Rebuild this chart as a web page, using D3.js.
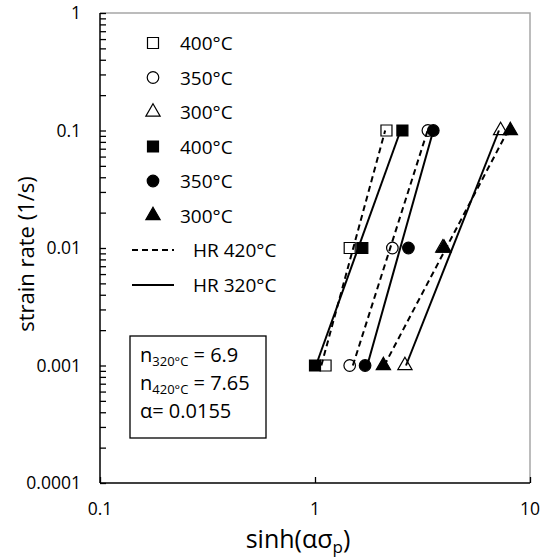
<!DOCTYPE html>
<html>
<head>
<meta charset="utf-8">
<script src="https://cdn.jsdelivr.net/npm/d3@7"></script>
<style>
  body { margin: 0; background: #fff; }
  svg text { font-family: "Open Sans", sans-serif; fill: #000; }
</style>
</head>
<body>
<div id="chart"></div>
<script>
// strain rates (1/s) measured
const rates = [0.001, 0.01, 0.1];

// sinh(alpha*sigma_p) for each temperature, open = one condition, filled = other
const open400 = [1.12, 1.45, 2.15];
const open350 = [1.45, 2.29, 3.35];
const open300 = [2.62, 3.93, 7.3];
const fill400 = [1.0, 1.66, 2.55];
const fill350 = [1.71, 2.72, 3.55];
const fill300 = [2.08, 3.98, 8.1];

// fitted lines: x at rate 0.001 and at 0.1
const fitRates = [0.001, 0.1];
const dashFits = [[1.07, 2.12], [1.5, 3.34], [2.1, 7.9]];
const solidFits = [[1.01, 2.5], [1.75, 3.55], [2.65, 7.17]];

const xTicks = [0.1, 1, 10];
const yTicks = [0.0001, 0.001, 0.01, 0.1, 1];

const series = [
  { name: "400°C", values: open400, shape: "square", filled: false },
  { name: "350°C", values: open350, shape: "circle", filled: false },
  { name: "300°C", values: open300, shape: "triangle", filled: false },
  { name: "400°C", values: fill400, shape: "square", filled: true },
  { name: "350°C", values: fill350, shape: "circle", filled: true },
  { name: "300°C", values: fill300, shape: "triangle", filled: true }
];

const width = 543, height = 560;
const x = d3.scaleLog().domain([0.1, 10]).range([100, 530]);
const y = d3.scaleLog().domain([0.0001, 1]).range([483, 13]);

const svg = d3.select("#chart").append("svg")
  .attr("width", width)
  .attr("height", height);

// gray plot-area border (top + right)
svg.append("path")
  .attr("d", `M${x(0.1)},${y(1)}H${x(10)}V${y(0.0001)}`)
  .attr("fill", "none")
  .attr("stroke", "#a6a6a6")
  .attr("stroke-width", 1.5);

// y axis with minor ticks pointing inside
const yMinor = [];
for (let e = -4; e < 0; e++) {
  for (let m = 1; m < 10; m++) yMinor.push(m * Math.pow(10, e));
}
yMinor.push(1);
svg.append("g")
  .attr("transform", `translate(${x(0.1)},0)`)
  .call(d3.axisRight(y).tickValues(yMinor).tickSize(6).tickFormat(""))
  .call(g => g.select(".domain").remove())
  .call(g => g.selectAll("line").attr("stroke", "#000").attr("stroke-width", 1.3));

svg.append("line")
  .attr("x1", x(0.1)).attr("x2", x(0.1))
  .attr("y1", y(1)).attr("y2", y(0.0001))
  .attr("stroke", "#000").attr("stroke-width", 1.5);

svg.append("g").selectAll("text")
  .data(yTicks)
  .join("text")
  .attr("x", 81)
  .attr("y", d => y(d) + 6)
  .attr("text-anchor", "end")
  .attr("font-size", 17.5)
  .text(d => String(d));

// x axis
svg.append("g")
  .attr("transform", `translate(0,${y(0.0001)})`)
  .call(d3.axisTop(x).tickValues(xTicks).tickSize(6).tickFormat(""))
  .call(g => g.select(".domain").remove())
  .call(g => g.selectAll("line").attr("stroke", "#000").attr("stroke-width", 1.3));

svg.append("line")
  .attr("x1", x(0.1)).attr("x2", x(10))
  .attr("y1", y(0.0001)).attr("y2", y(0.0001))
  .attr("stroke", "#000").attr("stroke-width", 1.5);

svg.append("g").selectAll("text")
  .data(xTicks)
  .join("text")
  .attr("x", d => x(d))
  .attr("y", 515)
  .attr("text-anchor", "middle")
  .attr("font-size", 17.5)
  .text(d => String(d));

// axis titles
svg.append("text")
  .attr("transform", `translate(34,${(y(1) + y(0.0001)) / 2 + 6}) rotate(-90)`)
  .attr("text-anchor", "middle")
  .attr("font-size", 22)
  .text("strain rate (1/s)");

const xt = svg.append("text")
  .attr("x", 298)
  .attr("y", 548)
  .attr("text-anchor", "middle")
  .attr("font-size", 25);
xt.append("tspan").text("sinh(ασ");
xt.append("tspan").attr("font-size", 17).attr("dy", 5).text("p");
xt.append("tspan").attr("dy", -5).text(")");

// marker drawing
const sym = {
  square: d3.symbol().type(d3.symbolSquare).size(121),
  circle: d3.symbol().type(d3.symbolCircle).size(105),
  triangle: d3.symbol().type(d3.symbolTriangle).size(88)
};

function marker(g, s) {
  return g.append("path")
    .attr("d", sym[s.shape]())
    .attr("fill", s.filled ? "#000" : "#fff")
    .attr("stroke", "#000")
    .attr("stroke-width", 1.2);
}

const line = d3.line().x(d => x(d[0])).y(d => y(d[1]));

// points
series.forEach(s => {
  const g = svg.append("g");
  s.values.forEach((v, i) => {
    marker(g.append("g").attr("transform", `translate(${x(v)},${y(rates[i])})`), s);
  });
});

// fits
dashFits.forEach(f => {
  svg.append("path")
    .attr("d", line(f.map((v, i) => [v, fitRates[i]])))
    .attr("fill", "none").attr("stroke", "#000")
    .attr("stroke-width", 2).attr("stroke-dasharray", "6,4");
});
solidFits.forEach(f => {
  svg.append("path")
    .attr("d", line(f.map((v, i) => [v, fitRates[i]])))
    .attr("fill", "none").attr("stroke", "#000")
    .attr("stroke-width", 2);
});

// legend
const legend = svg.append("g");
series.forEach((s, i) => {
  const ly = 43 + i * 34.5;
  marker(legend.append("g").attr("transform", `translate(153,${ly})`), s);
  legend.append("text")
    .attr("x", 180).attr("y", ly + 7)
    .attr("font-size", 19)
    .text(s.name);
});
[["HR 420°C", "6,4", 250], ["HR 320°C", null, 285]].forEach(([label, dash, ly]) => {
  legend.append("line")
    .attr("x1", 132).attr("x2", 174)
    .attr("y1", ly).attr("y2", ly)
    .attr("stroke", "#000").attr("stroke-width", 2)
    .attr("stroke-dasharray", dash);
  legend.append("text")
    .attr("x", 193).attr("y", ly + 7)
    .attr("font-size", 19)
    .text(label);
});

// annotation box
svg.append("rect")
  .attr("x", 130).attr("y", 336)
  .attr("width", 136).attr("height", 102)
  .attr("fill", "#fff").attr("stroke", "#000").attr("stroke-width", 1.3);

const notes = [
  ["n", "320°C", " = 6.9"],
  ["n", "420°C", " = 7.65"],
  ["α= 0.0155", null, null]
];
notes.forEach((n, i) => {
  const t = svg.append("text")
    .attr("x", 140).attr("y", 362 + i * 28)
    .attr("font-size", 20);
  t.append("tspan").text(n[0]);
  if (n[1]) {
    t.append("tspan").attr("font-size", 13).attr("dy", 4).text(n[1]);
    t.append("tspan").attr("dy", -4).text(n[2]);
  }
});
</script>
</body>
</html>
